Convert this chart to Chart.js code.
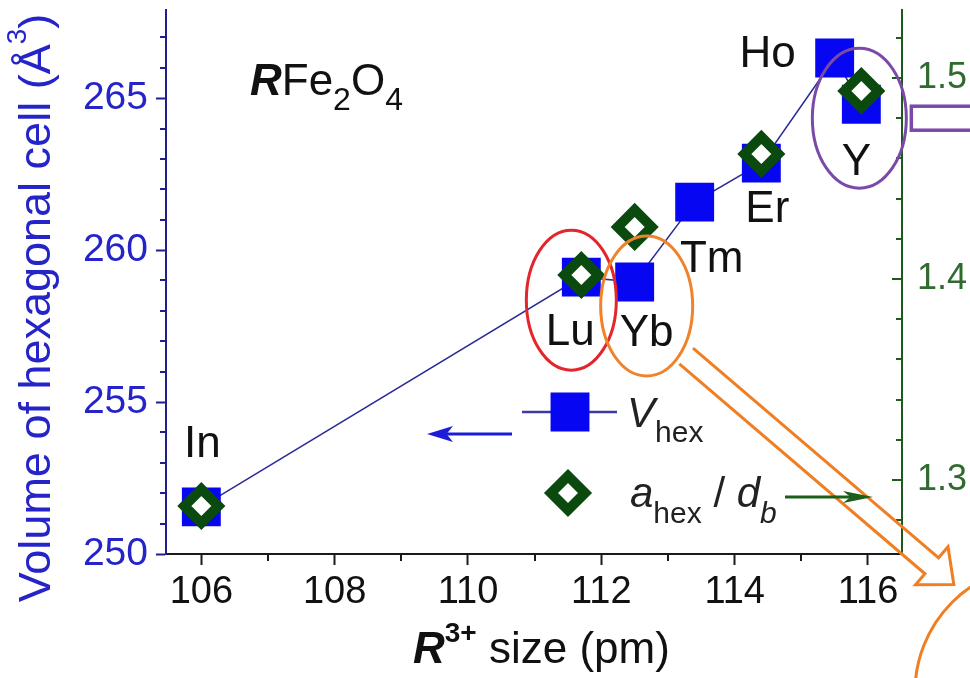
<!DOCTYPE html>
<html>
<head>
<meta charset="utf-8">
<title>RFe2O4 hexagonal cell volume vs R3+ size</title>
<script src="https://cdn.jsdelivr.net/npm/chart.js@4/dist/chart.umd.min.js"></script>
<style>
  html, body { margin: 0; padding: 0; background: #ffffff; }
  #wrap { width: 970px; height: 678px; }
</style>
</head>
<body>
<div id="wrap"><canvas id="chart" width="970" height="678"></canvas></div>
<script>
// ---- data ----
const elements     = ['In', 'Lu', 'Yb', 'Tm', 'Er', 'Ho', 'Y'];
const ionicSize    = [106.0, 111.7, 112.5, 113.4, 114.4, 115.5, 115.9];   // pm
const vHex         = [251.55, 259.11, 258.95, 261.58, 262.86, 266.32, 264.80]; // Å^3

const ratioElements = ['In', 'Lu', 'Yb', 'Er', 'Y'];
const ratioSize     = [106.0, 111.7, 112.5, 114.4, 115.9];
const aHexOverDb    = [1.2871, 1.4020, 1.4259, 1.4622, 1.4935];

// ---- axis ticks ----
const xTicks      = [106, 108, 110, 112, 114, 116];
const xMinorTicks = [107, 109, 111, 113, 115];
const vTicks      = [250, 255, 260, 265];
const vMinorTicks = [251, 252, 253, 254, 256, 257, 258, 259, 261, 262, 263, 264, 266, 267];
const rTicks      = [1.3, 1.4, 1.5];
const rMinorTicks = [1.28, 1.32, 1.34, 1.36, 1.38, 1.42, 1.44, 1.46, 1.48, 1.52];

const FONT = '"Liberation Sans", Arial, Helvetica, sans-serif';
const NAVY = '#1f1f90';
const BLUE_TXT = '#2424c8';
const GREEN_AX = '#1d5a1d';
const GREEN_TXT = '#2f6a2f';
const SQUARE_BLUE = '#0606f2';
const DIAMOND_GREEN = '#0b4a0f';

const squareStyle  = { pointStyle: 'rect', radius: 27.5, rotation: 0, borderWidth: 0 };
const diamondStyle = { pointStyle: 'rectRot', radius: 17, rotation: 0, borderWidth: 10 };

// label placement (offsets in px from each V_hex point)
const labelOffsets = {
  In: [1, -50], Lu: [-11, 68], Yb: [12, 64], Tm: [17, 70],
  Er: [6, 59], Ho: [-67, 9], Y: [-5, 71]
};

function richText(ctx, x, y, parts, align) {
  let w = 0;
  parts.forEach(p => { ctx.font = p.font; p.w = ctx.measureText(p.t).width; w += p.w; });
  let cx = align === 'center' ? x - w / 2 : x;
  ctx.textAlign = 'left';
  ctx.textBaseline = 'alphabetic';
  parts.forEach(p => {
    ctx.font = p.font;
    ctx.fillStyle = p.color;
    ctx.fillText(p.t, cx, y + (p.dy || 0));
    cx += p.w;
  });
}

function dartArrow(ctx, x0, x1, y, headLen, headHalf, color, lineW) {
  // straight shaft from x0 to x1 with a filled dart head at x1
  const dir = Math.sign(x1 - x0);
  ctx.save();
  ctx.strokeStyle = color;
  ctx.fillStyle = color;
  ctx.lineWidth = lineW;
  ctx.beginPath();
  ctx.moveTo(x0, y);
  ctx.lineTo(x1 - dir * headLen * 0.6, y);
  ctx.stroke();
  ctx.beginPath();
  ctx.moveTo(x1, y);
  ctx.lineTo(x1 - dir * headLen, y - headHalf);
  ctx.lineTo(x1 - dir * headLen * 0.75, y);
  ctx.lineTo(x1 - dir * headLen, y + headHalf);
  ctx.closePath();
  ctx.fill();
  ctx.restore();
}

// keep the plot frame fixed: no extra edge padding reserved for tick labels
function noEdgePadding(s) {
  s.paddingTop = 0; s.paddingBottom = 0; s.paddingLeft = 0; s.paddingRight = 0;
}

const decorations = {
  id: 'decorations',
  afterDraw(chart) {
    const ctx = chart.ctx;
    const { x, y, y1 } = chart.scales;
    const area = chart.chartArea;

    // ---- minor ticks and inward ticks of the right axis ----
    ctx.save();
    ctx.lineWidth = 2;
    ctx.strokeStyle = '#1a1a1a';
    xMinorTicks.forEach(v => {
      const px = Math.round(x.getPixelForValue(v));
      ctx.beginPath(); ctx.moveTo(px, area.bottom); ctx.lineTo(px, area.bottom + 7); ctx.stroke();
    });
    ctx.strokeStyle = NAVY;
    vMinorTicks.forEach(v => {
      const py = Math.round(y.getPixelForValue(v));
      ctx.beginPath(); ctx.moveTo(area.left - 6, py); ctx.lineTo(area.left, py); ctx.stroke();
    });
    ctx.strokeStyle = GREEN_AX;
    rTicks.forEach(v => {
      const py = Math.round(y1.getPixelForValue(v));
      ctx.beginPath(); ctx.moveTo(area.right - 10, py); ctx.lineTo(area.right, py); ctx.stroke();
    });
    rMinorTicks.forEach(v => {
      const py = Math.round(y1.getPixelForValue(v));
      ctx.beginPath(); ctx.moveTo(area.right - 6, py); ctx.lineTo(area.right, py); ctx.stroke();
    });
    ctx.restore();

    // ---- axis titles ----
    ctx.save();
    ctx.translate(50, 308);
    ctx.rotate(-Math.PI / 2);
    richText(ctx, 0, 0, [
      { t: 'Volume of hexagonal cell (Å', font: `45px ${FONT}`, color: BLUE_TXT },
      { t: '3', font: `28px ${FONT}`, color: BLUE_TXT, dy: -24 },
      { t: ')', font: `45px ${FONT}`, color: BLUE_TXT }
    ], 'center');
    ctx.restore();

    richText(ctx, 413, 663, [
      { t: 'R', font: `italic bold 44px ${FONT}`, color: '#111' },
      { t: '3+', font: `bold 28px ${FONT}`, color: '#111', dy: -21 },
      { t: ' size (pm)', font: `44px ${FONT}`, color: '#111' }
    ]);

    // ---- compound name ----
    richText(ctx, 250, 95, [
      { t: 'R', font: `italic bold 44px ${FONT}`, color: '#111' },
      { t: 'Fe', font: `44px ${FONT}`, color: '#111' },
      { t: '2', font: `32px ${FONT}`, color: '#111', dy: 15 },
      { t: 'O', font: `44px ${FONT}`, color: '#111' },
      { t: '4', font: `32px ${FONT}`, color: '#111', dy: 15 }
    ]);

    // ---- element labels next to the V_hex points ----
    const pts = {};
    elements.forEach((el, i) => {
      pts[el] = { px: x.getPixelForValue(ionicSize[i]), py: y.getPixelForValue(vHex[i]) };
    });
    ctx.save();
    ctx.font = `44px ${FONT}`;
    ctx.fillStyle = '#111';
    ctx.textAlign = 'center';
    ctx.textBaseline = 'alphabetic';
    elements.forEach(el => {
      const o = labelOffsets[el];
      ctx.fillText(el, pts[el].px + o[0], pts[el].py + o[1]);
    });
    ctx.restore();

    // ---- highlight ellipses ----
    const ell = (cx, cy, rx, ry, color) => {
      ctx.save();
      ctx.strokeStyle = color;
      ctx.lineWidth = 3;
      ctx.beginPath();
      ctx.ellipse(cx, cy, rx, ry, 0, 0, Math.PI * 2);
      ctx.stroke();
      ctx.restore();
    };
    const luC = { x: pts.Lu.px - 10, y: pts.Lu.py + 23 };
    const ybC = { x: pts.Yb.px + 12, y: pts.Yb.py + 24 };
    const yC  = { x: pts.Y.px - 2,  y: pts.Y.py + 14 };
    ell(luC.x, luC.y, 45, 70, '#e2262b');
    ell(ybC.x, ybC.y, 46, 70, '#f0822a');
    ell(yC.x, yC.y, 47, 70, '#7b4aa8');

    // ---- hollow orange arrow leaving the Yb ellipse ----
    ctx.save();
    const S = { x: ybC.x + 39.5, y: ybC.y + 50 };
    const ang = 40.5 * Math.PI / 180;
    const u = { x: Math.cos(ang), y: Math.sin(ang) };
    const n = { x: -u.y, y: u.x };
    const P = (t, s) => [S.x + u.x * t + n.x * s, S.y + u.y * t + n.y * s];
    const half = 10.5, headBase = 323, tip = 352, headHalf = 25;
    ctx.strokeStyle = '#f07e22';
    ctx.lineWidth = 3;
    ctx.lineJoin = 'miter';
    ctx.beginPath();
    ctx.moveTo(...P(0, -half));
    ctx.lineTo(...P(headBase, -half));
    ctx.lineTo(...P(headBase, -headHalf));
    ctx.lineTo(...P(tip, 0));
    ctx.lineTo(...P(headBase, headHalf));
    ctx.lineTo(...P(headBase, half));
    ctx.lineTo(...P(0, half));
    ctx.stroke();
    // large circle at the lower right
    ctx.beginPath();
    ctx.arc(1042, 692, 127, 0, Math.PI * 2);
    ctx.stroke();
    ctx.restore();

    // ---- purple hollow arrow leaving the Y ellipse ----
    ctx.save();
    ctx.strokeStyle = '#7b4aa8';
    ctx.lineWidth = 3.5;
    ctx.strokeRect(yC.x + 52, yC.y - 12, 80, 24);
    ctx.restore();

    // ---- in-plot legend ----
    ctx.save();
    ctx.strokeStyle = '#3a3aa0';
    ctx.lineWidth = 2.5;
    ctx.beginPath(); ctx.moveTo(522, 412); ctx.lineTo(617, 412); ctx.stroke();
    ctx.fillStyle = SQUARE_BLUE;
    Chart.helpers.drawPoint(ctx, squareStyle, 570, 412);
    ctx.fillStyle = '#ffffff';
    ctx.strokeStyle = DIAMOND_GREEN;
    ctx.lineWidth = diamondStyle.borderWidth;
    Chart.helpers.drawPoint(ctx, diamondStyle, 568, 493);
    ctx.restore();

    richText(ctx, 627, 427, [
      { t: 'V', font: `italic 42px ${FONT}`, color: '#222' },
      { t: 'hex', font: `30px ${FONT}`, color: '#222', dy: 15 }
    ]);
    richText(ctx, 630, 507, [
      { t: 'a', font: `italic 42px ${FONT}`, color: '#222' },
      { t: 'hex', font: `30px ${FONT}`, color: '#222', dy: 16 },
      { t: ' / ', font: `42px ${FONT}`, color: '#222' },
      { t: 'd', font: `italic 42px ${FONT}`, color: '#222' },
      { t: 'b', font: `italic 30px ${FONT}`, color: '#222', dy: 16 }
    ]);

    dartArrow(ctx, 512, 427, 434, 26, 8, '#1c1cd8', 3);
    dartArrow(ctx, 785, 873, 497, 30, 6, '#1d5e1d', 3);
  }
};

const ctxEl = document.getElementById('chart');
new Chart(ctxEl, {
  type: 'scatter',
  data: {
    datasets: [
      {
        label: 'a_hex / d_b',
        data: ratioSize.map((v, i) => ({ x: v, y: aHexOverDb[i] })),
        yAxisID: 'y1',
        showLine: false,
        order: 0,
        pointStyle: diamondStyle.pointStyle,
        pointRadius: diamondStyle.radius,
        pointBorderWidth: diamondStyle.borderWidth,
        pointBorderColor: DIAMOND_GREEN,
        pointBackgroundColor: '#ffffff',
        clip: false
      },
      {
        label: 'V_hex',
        data: ionicSize.map((v, i) => ({ x: v, y: vHex[i] })),
        yAxisID: 'y',
        showLine: true,
        order: 1,
        borderColor: '#2b2b95',
        borderWidth: 1.5,
        pointStyle: squareStyle.pointStyle,
        pointRadius: squareStyle.radius,
        pointBorderWidth: 0,
        pointBackgroundColor: SQUARE_BLUE,
        clip: false
      }
    ]
  },
  options: {
    responsive: false,
    animation: false,
    events: [],
    devicePixelRatio: 1,
    layout: { autoPadding: false, padding: { top: 10, left: 0, right: 0, bottom: 0 } },
    plugins: { legend: { display: false }, tooltip: { enabled: false } },
    scales: {
      x: {
        type: 'linear',
        position: 'bottom',
        min: 105.47,
        max: 116.51,
        afterBuildTicks: s => { s.ticks = xTicks.map(v => ({ value: v })); },
        afterFit: s => { s.height = 124; noEdgePadding(s); },
        border: { display: true, color: '#1a1a1a', width: 2 },
        grid: { display: true, drawOnChartArea: false, drawTicks: true, tickLength: 11, tickColor: '#1a1a1a', tickWidth: 2 },
        ticks: { color: '#111', font: { family: FONT, size: 38 }, padding: 5, maxRotation: 0, autoSkip: false, callback: v => String(v) }
      },
      y: {
        type: 'linear',
        position: 'left',
        min: 250,
        max: 267.9,
        afterBuildTicks: s => { s.ticks = vTicks.map(v => ({ value: v })); },
        afterFit: s => { s.width = 166; noEdgePadding(s); },
        border: { display: true, color: NAVY, width: 2 },
        grid: { display: true, drawOnChartArea: false, drawTicks: true, tickLength: 10, tickColor: NAVY, tickWidth: 2 },
        ticks: { color: BLUE_TXT, font: { family: FONT, size: 39 }, padding: 8, autoSkip: false, callback: v => String(v) }
      },
      y1: {
        type: 'linear',
        position: 'right',
        min: 1.2632,
        max: 1.5338,
        afterBuildTicks: s => { s.ticks = rTicks.map(v => ({ value: v })); },
        afterFit: s => { s.width = 68; noEdgePadding(s); },
        border: { display: true, color: GREEN_AX, width: 2 },
        grid: { display: true, drawOnChartArea: false, drawTicks: false },
        ticks: { color: GREEN_TXT, font: { family: FONT, size: 36 }, padding: 15, autoSkip: false, callback: v => v.toFixed(1) }
      }
    }
  },
  plugins: [decorations]
});
</script>
</body>
</html>
